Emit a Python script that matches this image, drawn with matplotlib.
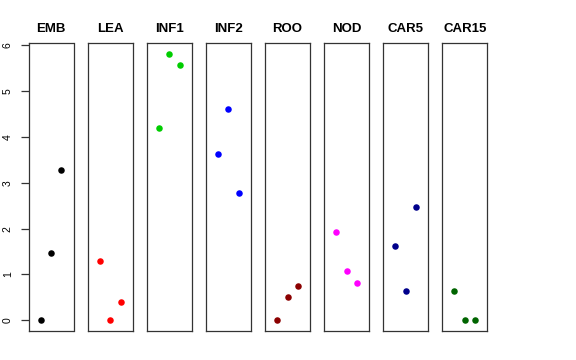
import numpy as np
import matplotlib
matplotlib.use('Agg')
import matplotlib.pyplot as plt

plt.rcParams['font.family'] = ['Liberation Sans', 'DejaVu Sans']

tissues = ['EMB', 'LEA', 'INF1', 'INF2', 'ROO', 'NOD', 'CAR5', 'CAR15']
colors = ['#000000', '#FF0000', '#00CD00', '#0000FF', '#8B0000', '#FF00FF', '#00008B', '#006400']
reps = [1, 2, 3]
emb = [0.0, 1.47, 3.27]
lea = [1.29, 0.0, 0.40]
inf1 = [4.20, 5.81, 5.58]
inf2 = [3.63, 4.61, 2.78]
roo = [0.0, 0.51, 0.75]
nod = [1.92, 1.08, 0.81]
car5 = [1.63, 0.63, 2.47]
car15 = [0.64, 0.0, 0.0]
values = [emb, lea, inf1, inf2, roo, nod, car5, car15]

fig = plt.figure(figsize=(5.76, 3.6), dpi=100)
W, H = 576.0, 360.0
ymax = max(max(v) for v in values)
pad = 0.04 * ymax

for i, (name, col, vals) in enumerate(zip(tissues, colors, values)):
    left = 28.7 + i * 59.1
    ax = fig.add_axes([left / W, 29.0 / H, 44.8 / W, 287.7 / H])
    ax.scatter(reps, vals, s=22, color=col, zorder=3, linewidths=0)
    ax.set_xlim(-0.16, 4.16)
    ax.set_ylim(-pad, ymax + pad)
    ax.set_xticks([])
    for sp in ax.spines.values():
        sp.set_linewidth(0.9)
        sp.set_color('#333333')
    ax.set_title(name, fontsize=9.5, fontweight='bold', pad=8)
    if i == 0:
        ax.set_yticks(range(0, 7))
        ax.tick_params(axis='y', length=5.5, width=0.9, labelsize=7.5, pad=6, color='#333333')
        for lab in ax.get_yticklabels():
            lab.set_rotation(90)
            lab.set_va('center')
    else:
        ax.set_yticks([])

fig.savefig('out.png', dpi=100)
